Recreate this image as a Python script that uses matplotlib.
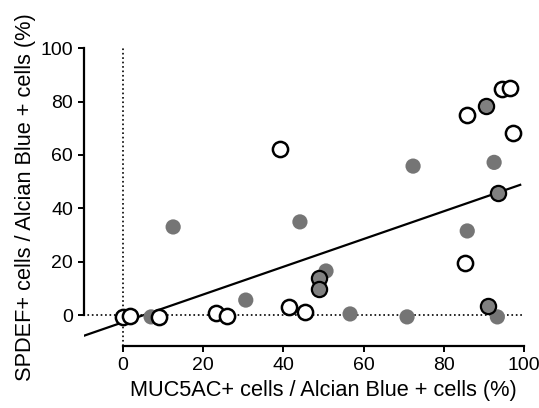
import matplotlib
matplotlib.use("Agg")
import matplotlib.pyplot as plt
import numpy as np

plt.rcParams["font.family"] = ["Liberation Sans", "DejaVu Sans"]

# open circles
open_x = [39.2, 85.8, 94.5, 96.5, 97.3, 85.3, 41.4, 45.4, 0.0, 1.7, 9.0, 23.2, 26.0]
open_y = [62.2, 74.9, 84.6, 85.0, 68.2, 19.5, 3.0, 1.0, -0.8, -0.4, -0.7, 0.7, -0.4]

# grey filled circles
grey_x = [12.5, 7.0, 30.6, 44.1, 50.6, 56.6, 70.8, 85.8, 93.3, 72.3, 92.5]
grey_y = [33.0, -0.7, 5.6, 34.9, 16.5, 0.4, -0.7, 31.5, -0.7, 55.8, 57.2]

# dark grey circles with outline
dark_x = [90.5, 93.5, 48.9, 48.9, 91.0]
dark_y = [78.3, 45.7, 13.9, 9.7, 3.3]

# regression line
slope = 0.52
intercept = -2.7
line_x = np.array([-10, 99])

fig = plt.figure(figsize=(5.39, 4.08), dpi=100)
ax = fig.add_axes([0.156, 0.152, 0.824, 0.730])

ax.axvline(0, ymin=0, ymax=1, color="black", ls=":", lw=1.2, zorder=1)
ax.plot([-10, 100], [0, 0], color="black", ls=":", lw=1.2, zorder=1)
ax.plot(line_x, slope * line_x + intercept, color="black", lw=1.6, zorder=2)

ms = 120
ax.scatter(grey_x, grey_y, s=ms, color="#757575", edgecolors="none", zorder=3, clip_on=False)
ax.scatter(dark_x, dark_y, s=ms, color="#808080", edgecolors="black", linewidths=1.6,
           zorder=4, clip_on=False)
ax.scatter(open_x, open_y, s=ms, color="white", edgecolors="black", linewidths=1.8,
           zorder=5, clip_on=False)

ax.set_xlim(-9.7, 101)
ax.set_ylim(-11.6, 100)
ax.set_xticks([0, 20, 40, 60, 80, 100])
ax.set_yticks([0, 20, 40, 60, 80, 100])
ax.spines["top"].set_visible(False)
ax.spines["right"].set_visible(False)
ax.spines["left"].set_bounds(0, 100)
ax.spines["bottom"].set_bounds(0, 100)
for s in ("left", "bottom"):
    ax.spines[s].set_linewidth(1.6)
ax.tick_params(direction="out", length=4, width=1.4, labelsize=14, pad=4)

ax.set_xlabel("MUC5AC+ cells / Alcian Blue + cells (%)", fontsize=15.7, labelpad=4, x=0.539)
ax.set_ylabel("SPDEF+ cells / Alcian Blue + cells (%)", fontsize=15.7, labelpad=3)

fig.savefig("out.png", dpi=100)
